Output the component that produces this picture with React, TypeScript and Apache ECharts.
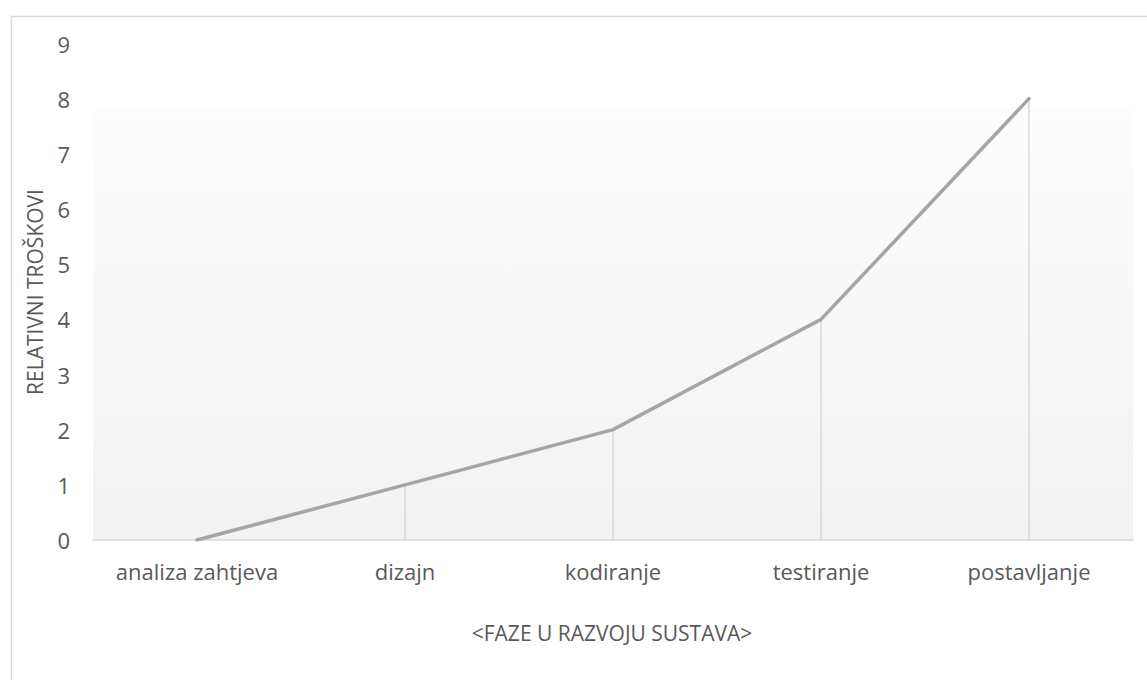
import React, { useEffect, useRef } from "react";
import * as echarts from "echarts";

const categories = ["analiza zahtjeva", "dizajn", "kodiranje", "testiranje", "postavljanje"];
const values = [0, 1, 2, 4, 8];
const yTicks = [0, 1, 2, 3, 4, 5, 6, 7, 8, 9];
const xAxisTitle = "<FAZE U RAZVOJU SUSTAVA>";
const yAxisTitle = "RELATIVNI TROŠKOVI";

const FONT = "'Open Sans', sans-serif";
const TEXT = "#595959";

export default function App() {
  const ref = useRef<HTMLDivElement>(null);
  useEffect(() => {
    if (!ref.current) return;
    const chart = echarts.init(ref.current, undefined, { renderer: "svg" });
    const dropLines = values
      .map((v, i) => ({ v, i }))
      .filter((d) => d.v > 0)
      .map((d) => [
        { coord: [d.i, 0] },
        { coord: [d.i, d.v] },
      ]);
    chart.setOption({
      animation: false,
      backgroundColor: "#ffffff",
      textStyle: { fontFamily: FONT },
      grid: {
        left: 93,
        right: 14,
        top: 43.5,
        bottom: 140,
        show: false,
      },
      graphic: [
        {
          type: "rect",
          left: 9,
          top: 14,
          shape: { width: 1160, height: 700 },
          style: { fill: "none", stroke: "#d9d9d9", lineWidth: 1.5 },
          silent: true,
          z: -10,
        },
        {
          type: "rect",
          x: 93,
          y: 108,
          shape: { width: 1040, height: 432 },
          style: {
            fill: new echarts.graphic.LinearGradient(0, 0, 0, 1, [
              { offset: 0, color: "#fdfdfd" },
              { offset: 1, color: "#f2f2f2" },
            ]),
          },
          silent: true,
          z: -5,
        },
        {
          type: "text",
          x: 612,
          y: 633,
          style: {
            text: xAxisTitle,
            fill: TEXT,
            font: `21px ${FONT}`,
            textAlign: "center",
            textVerticalAlign: "middle",
          },
        },
        {
          type: "text",
          x: 35,
          y: 292,
          rotation: Math.PI / 2,
          style: {
            text: yAxisTitle,
            fill: TEXT,
            font: `21px ${FONT}`,
            textAlign: "center",
            textVerticalAlign: "middle",
          },
        },
      ],
      xAxis: {
        type: "category",
        data: categories,
        boundaryGap: true,
        axisLine: { show: true, lineStyle: { color: "#d9d9d9", width: 1.5 } },
        axisTick: { show: false },
        axisLabel: { color: TEXT, fontSize: 22, fontFamily: FONT, margin: 20, interval: 0, hideOverlap: false },
        splitLine: { show: false },
      },
      yAxis: {
        type: "value",
        min: yTicks[0],
        max: yTicks[yTicks.length - 1],
        interval: 1,
        axisLine: { show: false },
        axisTick: { show: false },
        splitLine: { show: false },
        axisLabel: { color: TEXT, fontSize: 22, fontFamily: FONT, margin: 23 },
      },
      series: [
        {
          type: "line",
          data: values,
          symbol: "none",
          lineStyle: { color: "#a5a5a5", width: 3.5, cap: "round", join: "round" },
          markLine: {
            silent: true,
            symbol: "none",
            label: { show: false },
            lineStyle: { color: "#d9d9d9", width: 1.5, type: "solid" },
            data: dropLines,
            z: 1,
          },
          z: 3,
        },
      ],
    });
    return () => chart.dispose();
  }, []);
  return <div ref={ref} style={{ width: 1147, height: 680, position: "absolute", left: 0, top: 0 }} />;
}
